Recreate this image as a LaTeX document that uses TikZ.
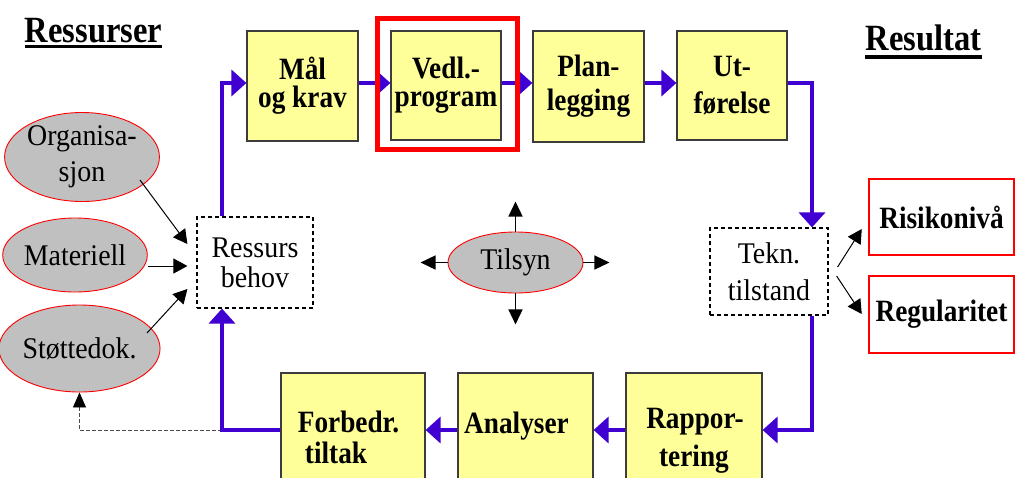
\documentclass[tikz,border=0pt]{standalone}
\usepackage{fontspec}
\setmainfont{Liberation Serif}
\newfontfamily\rcnd{Liberation Serif}[FakeStretch=0.93]
\newfontfamily\bcnd{Liberation Serif}[FakeStretch=0.88]
\usetikzlibrary{arrows.meta,shapes.geometric}
\definecolor{flowblue}{RGB}{64,0,210}
\definecolor{boxyellow}{RGB}{255,255,153}
\definecolor{ellgray}{RGB}{192,192,192}
\definecolor{boxedge}{RGB}{60,60,60}
\tikzset{
 ybox/.style={draw=boxedge, line width=1.2pt, fill=boxyellow, inner sep=0pt, align=center, font=\bcnd\bfseries\fontsize{31}{28}\selectfont},
 ell/.style={ellipse, draw=red, line width=0.9pt, fill=ellgray, inner sep=0pt, align=center, font=\rcnd\fontsize{30}{36}\selectfont},
 dbox/.style={draw, dash pattern=on 4pt off 3pt, line width=1.2pt, inner sep=0pt, align=center, font=\rcnd\fontsize{30}{30}\selectfont},
 rbox/.style={draw=red, line width=2.5pt, inner sep=0pt, font=\bcnd\bfseries\fontsize{31}{28}\selectfont},
 redframe/.style={draw=red, line width=5pt, inner sep=0pt},
 flow/.style={draw=flowblue, line width=4pt, -{Triangle[length=15pt,width=26pt]}},
 blk/.style={draw=black, line width=1pt, -{Triangle[length=14pt,width=15pt]}},
 tarr/.style={draw=black, line width=1.5pt, -{Triangle[length=15pt,width=14pt]}},
 dsh/.style={draw=black!70, line width=0.9pt, dash pattern=on 4pt off 2pt, -{Triangle[length=15pt,width=13pt,black,fill=black]}},
 titletext/.style={inner sep=0pt, anchor=base, font=\bcnd\bfseries\fontsize{37}{40}\selectfont},
 btxt/.style={inner sep=0pt, anchor=base, font=\bcnd\bfseries\fontsize{31}{28}\selectfont},
}
\begin{document}
\begin{tikzpicture}[x=1pt,y=-1pt]
\useasboundingbox (0,0) rectangle (1017,477);
\fill[white] (0,0) rectangle (1017,477);
\clip (0,0) rectangle (1017,477);

% helper coordinates
\coordinate (r) at (0,83);
\coordinate (lx) at (222,0);
\coordinate (rx) at (812,0);

% titles
\node[titletext] (t1) at (93.5,42) {Ressurser};
\draw[line width=3.5pt] ([yshift=-4.5pt]t1.base west) -- ([yshift=-4.5pt]t1.base east);
\node[titletext] (t2) at (923.5,50) {Resultat};
\draw[line width=3.5pt] ([yshift=-7pt]t2.base west) -- ([yshift=-7pt]t2.base east);

% top row
\node[ybox, minimum width=111pt, minimum height=110pt] (mal) at (302.5,86) {Mål\\og krav};
\node[ybox, minimum width=110pt, minimum height=109pt] (vedl) at (446,85.5) {Vedl.-\\program};
\node[ybox, minimum width=111pt, minimum height=111pt, font=\bcnd\bfseries\fontsize{31}{34}\selectfont] (plan) at (588.5,86.5) {Plan-\\legging};
\node[ybox, minimum width=110pt, minimum height=109pt, font=\bcnd\bfseries\fontsize{31}{37}\selectfont] (ut) at (732,85.5) {Ut-\\førelse};

% bottom row boxes
\node[ybox, minimum width=144pt, minimum height=114pt] (forb) at (353,430) {};
\node[ybox, minimum width=135pt, minimum height=114pt] (anal) at (525.5,430) {};
\node[ybox, minimum width=136pt, minimum height=114pt] (rapp) at (694,430) {};
\node[btxt] (forb1) at (348.5,432) {Forbedr.};
\node[btxt] (forb2) at (336,463) {tiltak};
\node[btxt] (anal1) at (516.5,433) {Analyser};
\node[btxt] (rapp1) at (695,428) {Rappor-};
\node[btxt] (rapp2) at (694,466) {tering};

% resources
\node[ell, minimum width=140pt, minimum height=89pt] (org) at (82,157) {Organisa-\\sjon};
\node[ell, minimum width=126pt, minimum height=74pt] (mat) at (75,255) {Materiell};
\node[ell, minimum width=135pt, minimum height=87pt] (stot) at (79.5,348.5) {Støttedok.};
\node[dbox, minimum width=116pt, minimum height=91pt] (res) at (255,262.5) {Ressurs\\behov};

% centre
\node[ell, minimum width=135pt, minimum height=61pt] (tils) at (515.5,262.5) {Tilsyn};
\draw[tarr] (tils.north) -- ++(0,-30);
\draw[tarr] (tils.south) -- ++(0,31);
\draw[tarr] (tils.west) -- ++(-27,0);
\draw[tarr] (tils.east) -- ++(26,0);

% results
\node[dbox, minimum width=118pt, minimum height=87pt, font=\rcnd\fontsize{30}{37}\selectfont] (tekn) at (769,271.5) {Tekn.\\tilstand};
\node[rbox, minimum width=145pt, minimum height=76pt] (risk) at (941.5,217) {Risikonivå};
\node[rbox, minimum width=145pt, minimum height=77pt] (reg) at (941.5,314.5) {Regularitet};

% black arrows
\draw[blk] ([shift={(58,23)}]org.center) -- ([shift={(-9,-18.5)}]res.west);
\draw[blk] ([shift={(0,11)}]mat.east) -- ([shift={(-9,3.5)}]res.west);
\draw[blk] ([shift={(67.5,-15.5)}]stot.center) -- ([shift={(-9,26.5)}]res.west);
\draw[blk] ([shift={(9,-4.5)}]tekn.east) -- ([shift={(-6,12)}]risk.west);
\draw[blk] ([shift={(8,4.5)}]tekn.east) -- ([shift={(-6,-0.5)}]reg.west);

% blue flow
\draw[flow] (res.north -| lx) |- (mal.west |- r);
\draw[flow] (mal.east |- r) -- (vedl.west |- r);
\draw[flow] (vedl.east |- r) -- (plan.west |- r);
\draw[flow] (plan.east |- r) -- (ut.west |- r);
\draw[flow] (ut.east |- r) -| (tekn.north -| rx);
\draw[flow] (tekn.south -| rx) |- (rapp.east);
\draw[flow] (rapp.west) -- (anal.east);
\draw[flow] (anal.west) -- (forb.east);
\draw[dsh] (forb.west -| lx) -| (stot.south);
\draw[flow] (forb.west) -| (res.south -| lx);

% highlight frame
\node[redframe, minimum width=140pt, minimum height=131pt] (frame) at (447.5,84) {};
\end{tikzpicture}
\end{document}
